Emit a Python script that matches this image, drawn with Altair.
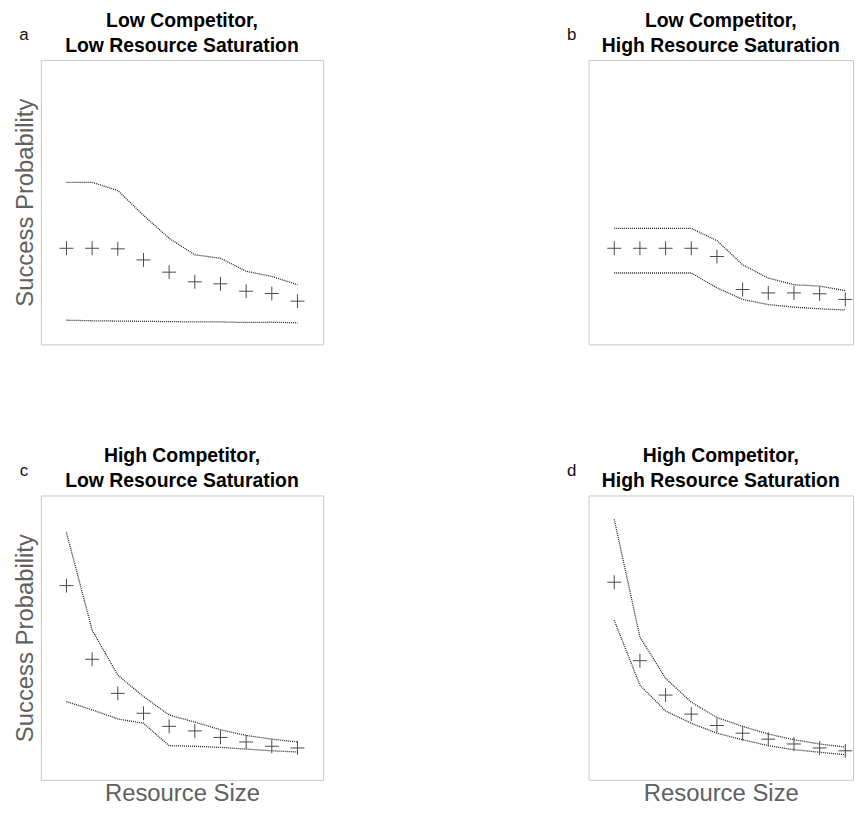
import altair as alt
import pandas as pd

sizes = list(range(1, 11))

titles = {
    "a": ["Low Competitor,", "Low Resource Saturation"],
    "b": ["Low Competitor,", "High Resource Saturation"],
    "c": ["High Competitor,", "Low Resource Saturation"],
    "d": ["High Competitor,", "High Resource Saturation"],
}

a_mean = [0.338, 0.338, 0.336, 0.297, 0.254, 0.220, 0.213, 0.187, 0.179, 0.152]
a_upper = [0.570, 0.570, 0.541, 0.454, 0.373, 0.315, 0.303, 0.257, 0.239, 0.210]
a_lower = [0.085, 0.083, 0.082, 0.081, 0.080, 0.079, 0.079, 0.077, 0.078, 0.076]

b_mean = [0.338, 0.338, 0.338, 0.338, 0.309, 0.193, 0.181, 0.181, 0.178, 0.158]
b_upper = [0.408, 0.408, 0.408, 0.408, 0.365, 0.280, 0.233, 0.210, 0.205, 0.189]
b_lower = [0.251, 0.251, 0.251, 0.251, 0.199, 0.158, 0.140, 0.131, 0.125, 0.121]

c_mean = [0.683, 0.424, 0.304, 0.234, 0.188, 0.172, 0.149, 0.133, 0.118, 0.112]
c_upper = [0.870, 0.526, 0.368, 0.293, 0.228, 0.203, 0.176, 0.156, 0.143, 0.133]
c_lower = [0.275, 0.246, 0.214, 0.199, 0.120, 0.118, 0.114, 0.108, 0.102, 0.098]

d_mean = [0.695, 0.419, 0.298, 0.231, 0.191, 0.164, 0.143, 0.126, 0.112, 0.102]
d_upper = [0.916, 0.502, 0.357, 0.273, 0.219, 0.188, 0.161, 0.141, 0.126, 0.115]
d_lower = [0.561, 0.333, 0.242, 0.199, 0.164, 0.141, 0.120, 0.106, 0.097, 0.088]

FONT = "Liberation Sans"
H = 286
PLUS = "M-1,0L1,0M0,-1L0,1"


def panel(letter, mean, upper, lower, show_y, show_x, width, xmax):
    df = pd.DataFrame({"size": sizes, "mean": mean, "upper": upper, "lower": lower})
    xscale = alt.Scale(domain=[0, xmax])
    if show_x:
        xenc = alt.X("size:Q", scale=xscale,
                     axis=alt.Axis(title="Resource Size", labels=False, ticks=False,
                                   domain=False, grid=False, titlePadding=2))
    else:
        xenc = alt.X("size:Q", scale=xscale, axis=None)

    def yenc(field):
        if show_y:
            return alt.Y(f"{field}:Q", scale=alt.Scale(domain=[0, 1]),
                         axis=alt.Axis(title="Success Probability", labels=False, ticks=False,
                                       domain=False, grid=False, titlePadding=3))
        return alt.Y(f"{field}:Q", scale=alt.Scale(domain=[0, 1]), axis=None)

    base = alt.Chart(df)
    pts = base.mark_point(shape=PLUS, size=196, stroke="#4a4a4a", strokeWidth=1,
                          filled=False, opacity=1).encode(x=xenc, y=yenc("mean"))
    up = base.mark_line(color="#222222", strokeWidth=1.3, strokeDash=[1, 1]).encode(
        x=xenc, y=yenc("upper"))
    lo = base.mark_line(color="#222222", strokeWidth=1.3, strokeDash=[1, 1]).encode(
        x=xenc, y=yenc("lower"))
    lab = alt.Chart(pd.DataFrame({"t": [letter]})).mark_text(
        font=FONT, fontSize=17, color="#111111", align="center", baseline="alphabetic"
    ).encode(text="t:N", x=alt.value(-17), y=alt.value(-20))
    return alt.layer(up, lo, pts, lab).properties(
        width=width, height=H,
        title=alt.TitleParams(text=titles[letter], font=FONT, fontSize=19.5, fontWeight="bold",
                              lineHeight=25, offset=-30, anchor="middle", color="#000000",
                              frame="group"),
    )


pa = panel("a", a_mean, a_upper, a_lower, True, False, 284, 11)
pb = panel("b", b_mean, b_upper, b_lower, False, False, 266, 10.3)
pc = panel("c", c_mean, c_upper, c_lower, True, True, 284, 11)
pd_ = panel("d", d_mean, d_upper, d_lower, False, True, 266, 10.3)

chart = alt.vconcat(
    alt.hconcat(pa, pb, spacing=243),
    alt.hconcat(pc, pd_, spacing=243),
    spacing=101,
).properties(
    padding={"left": 5, "top": 0, "right": 0, "bottom": 0},
    background="white",
).configure_view(
    stroke="#c8c8c8", strokeWidth=1
).configure_axis(
    titleFont=FONT, titleFontSize=24, titleFontWeight="normal", titleColor="#606060"
)

chart.save("out.html", embed_options={"renderer": "svg", "actions": False})
